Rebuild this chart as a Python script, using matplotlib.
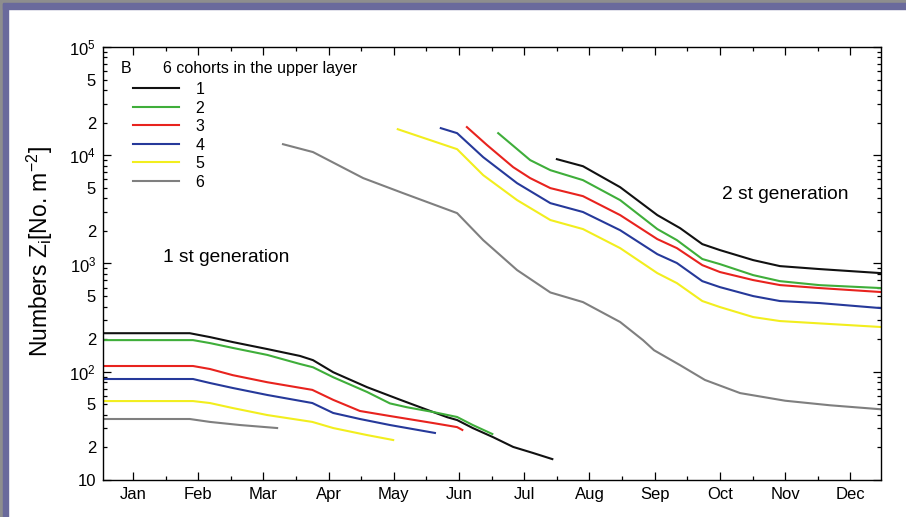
import math
import matplotlib
matplotlib.use("Agg")
import matplotlib.pyplot as plt
from matplotlib.patches import Rectangle
from matplotlib.ticker import FixedLocator, FuncFormatter

plt.rcParams["font.family"] = ["Liberation Sans", "DejaVu Sans"]
plt.rcParams["mathtext.fontset"] = "custom"
plt.rcParams["mathtext.rm"] = "Liberation Sans"
plt.rcParams["mathtext.it"] = "Liberation Sans"

# months, x in month units (Jan 1 = 0)
MONTHS = ["Jan", "Feb", "Mar", "Apr", "May", "Jun",
          "Jul", "Aug", "Sep", "Oct", "Nov", "Dec"]

COLORS = ["#111111", "#3fae3a", "#e8231e", "#26399a", "#f2ee1e", "#7f7f7f"]
LABELS = ["1", "2", "3", "4", "5", "6"]

# -------------------------------
# 1st generation
# -------------------------------
g1_x1 = [0.04, 1.37, 1.68, 2.03, 2.56, 3.06, 3.26, 3.57, 4.09, 4.6, 5.1, 5.32, 5.47, 5.71, 6.02, 6.33, 6.63, 6.93]
g1_y1 = [227, 227, 209, 188, 162, 140, 128, 99, 72, 55, 42.5, 38, 35.8, 30.2, 24.9, 20.2, 17.8, 15.6]

g1_x2 = [0.04, 1.42, 1.68, 2.03, 2.56, 3.06, 3.26, 3.57, 4.09, 4.44, 4.7, 5.1, 5.47, 5.71, 6.01]
g1_y2 = [196, 196, 184, 166, 143, 118, 110, 89, 65, 51, 47, 42.5, 38.2, 32.2, 26.6]

g1_x3 = [0.04, 1.42, 1.68, 2.03, 2.56, 3.25, 3.57, 3.98, 4.44, 5.1, 5.47, 5.55]
g1_y3 = [113, 113, 106, 93, 80, 68, 55, 43.4, 39, 33.6, 30.8, 29]

g1_x4 = [0.04, 1.42, 1.68, 2.03, 2.56, 3.25, 3.57, 3.98, 4.44, 5.13]
g1_y4 = [85.7, 85.7, 78.7, 70.8, 61, 51.4, 41.6, 36.6, 32.2, 27.2]

g1_x5 = [0.04, 1.42, 1.68, 2.03, 2.56, 3.25, 3.57, 4.09, 4.49]
g1_y5 = [53.6, 53.6, 51.4, 46.2, 39.8, 34.4, 30.2, 26, 23.4]

g1_x6 = [0.04, 1.37, 1.68, 2.14, 2.71]
g1_y6 = [36.6, 36.6, 34.4, 32.2, 30.2]

# -------------------------------
# 2nd generation
# -------------------------------
g2_x1 = [7.0, 7.4, 7.97, 8.54, 8.89, 9.23, 9.5, 10.01, 10.42, 11.03, 11.97]
g2_y1 = [9200, 7920, 5070, 2800, 2120, 1510, 1330, 1075, 946, 888, 815]

g2_x2 = [6.1, 6.59, 6.9, 7.4, 7.97, 8.54, 8.84, 9.23, 9.5, 10.01, 10.42, 11.03, 11.97]
g2_y2 = [16000, 9020, 7280, 5890, 3850, 2080, 1644, 1100, 987, 781, 687, 631, 593]

g2_x3 = [5.62, 5.93, 6.33, 6.59, 6.9, 7.4, 7.97, 8.54, 8.84, 9.23, 9.5, 10.01, 10.42, 11.03, 11.97]
g2_y3 = [18200, 12400, 7760, 6150, 4970, 4190, 2800, 1680, 1387, 966, 834, 703, 632, 593, 545]

g2_x4 = [5.22, 5.47, 5.87, 6.39, 6.9, 7.4, 7.97, 8.54, 8.84, 9.23, 9.5, 10.01, 10.42, 11.03, 11.97]
g2_y4 = [17800, 16000, 9600, 5520, 3610, 2990, 2030, 1220, 1010, 687, 605, 500, 450, 431, 387]

g2_x5 = [4.56, 5.47, 5.87, 6.39, 6.9, 7.4, 7.97, 8.54, 8.84, 9.23, 9.5, 10.01, 10.42, 11.97]
g2_y5 = [17400, 11380, 6550, 3850, 2520, 2080, 1387, 815, 659, 450, 396, 320, 294, 259]

g2_x6 = [2.8, 3.26, 4.03, 4.64, 5.47, 5.87, 6.39, 6.9, 7.4, 7.97, 8.32, 8.49, 8.89, 9.27, 9.81, 10.5, 11.19, 11.97]
g2_y6 = [12650, 10700, 6150, 4470, 2920, 1644, 869, 540, 440, 288, 196, 158, 115, 84, 63.5, 54, 49, 45]

gen1 = [(g1_x1, g1_y1), (g1_x2, g1_y2), (g1_x3, g1_y3),
        (g1_x4, g1_y4), (g1_x5, g1_y5), (g1_x6, g1_y6)]
gen2 = [(g2_x1, g2_y1), (g2_x2, g2_y2), (g2_x3, g2_y3),
        (g2_x4, g2_y4), (g2_x5, g2_y5), (g2_x6, g2_y6)]


fig = plt.figure(figsize=(9.06, 5.17), dpi=100)

# decorative frame (left / top border)
fig.patches.append(Rectangle((0, 0), 0.003, 1, transform=fig.transFigure, color="#8e8e8e", zorder=0))
fig.patches.append(Rectangle((0.003, 0), 0.006, 1, transform=fig.transFigure, color="#6a6a9c", zorder=0))
fig.patches.append(Rectangle((0, 0.994), 1, 0.006, transform=fig.transFigure, color="#8e8e8e", zorder=0))
fig.patches.append(Rectangle((0.003, 0.983), 0.997, 0.011, transform=fig.transFigure, color="#6a6a9c", zorder=0))

ax = fig.add_axes([103 / 906, 37 / 517, 778 / 906, 433 / 517])

for i in range(6):
    x, y = gen1[i]
    ax.plot(x, y, color=COLORS[i], lw=1.5, solid_joinstyle="round", label=LABELS[i])
for i in range(6):
    x, y = gen2[i]
    ax.plot(x, y, color=COLORS[i], lw=1.5, solid_joinstyle="round")

ax.set_yscale("log")
ax.set_ylim(10, 1e5)
ax.set_xlim(0.04, 11.97)

ax.xaxis.set_major_locator(FixedLocator([m + 0.5 for m in range(12)]))
ax.xaxis.set_minor_locator(FixedLocator(list(range(1, 12))))
ax.set_xticklabels(MONTHS)

major_y = [10, 100, 1000, 10000, 100000]
minor_y = [k * 10 ** e for e in range(1, 5) for k in range(2, 10)]
ax.yaxis.set_major_locator(FixedLocator(major_y))
ax.yaxis.set_minor_locator(FixedLocator(minor_y))


def ymajor(v, pos):
    if v == 10:
        return "10"
    return "$10^{%d}$" % round(math.log10(v))


def yminor(v, pos):
    lead = round(v / 10 ** math.floor(math.log10(v) + 1e-9))
    return str(lead) if lead in (2, 5) else ""


ax.yaxis.set_major_formatter(FuncFormatter(ymajor))
ax.yaxis.set_minor_formatter(FuncFormatter(yminor))

ax.tick_params(which="both", direction="in", top=True, right=True, labelsize=12, width=0.9)
ax.tick_params(which="major", length=6, pad=5)
ax.tick_params(which="minor", length=3, pad=5)
for s in ax.spines.values():
    s.set_linewidth(1.0)

ax.text(0.023, 0.951, "B", transform=ax.transAxes, fontsize=11.5, va="center", ha="left")
ax.text(0.077, 0.951, "6 cohorts in the upper layer", transform=ax.transAxes,
        fontsize=11.5, va="center", ha="left")
ax.text(0.077, 0.515, "1 st generation", transform=ax.transAxes, fontsize=13.8, va="center", ha="left")
ax.text(0.796, 0.660, "2 st generation", transform=ax.transAxes, fontsize=13.8, va="center", ha="left")

ax.legend(loc="upper left", bbox_to_anchor=(30 / 778, (480 - 82) / 433), frameon=False,
          fontsize=11.5, handlelength=2.9, handletextpad=1.0, labelspacing=0.22,
          borderpad=0, borderaxespad=0)

fig.text(40 / 906, (517 - 252) / 517, "Numbers Z$_\\mathrm{i}$[No. m$^{-2}$]",
         rotation=90, ha="center", va="center", fontsize=16.5)

fig.savefig("out.png", dpi=100)
